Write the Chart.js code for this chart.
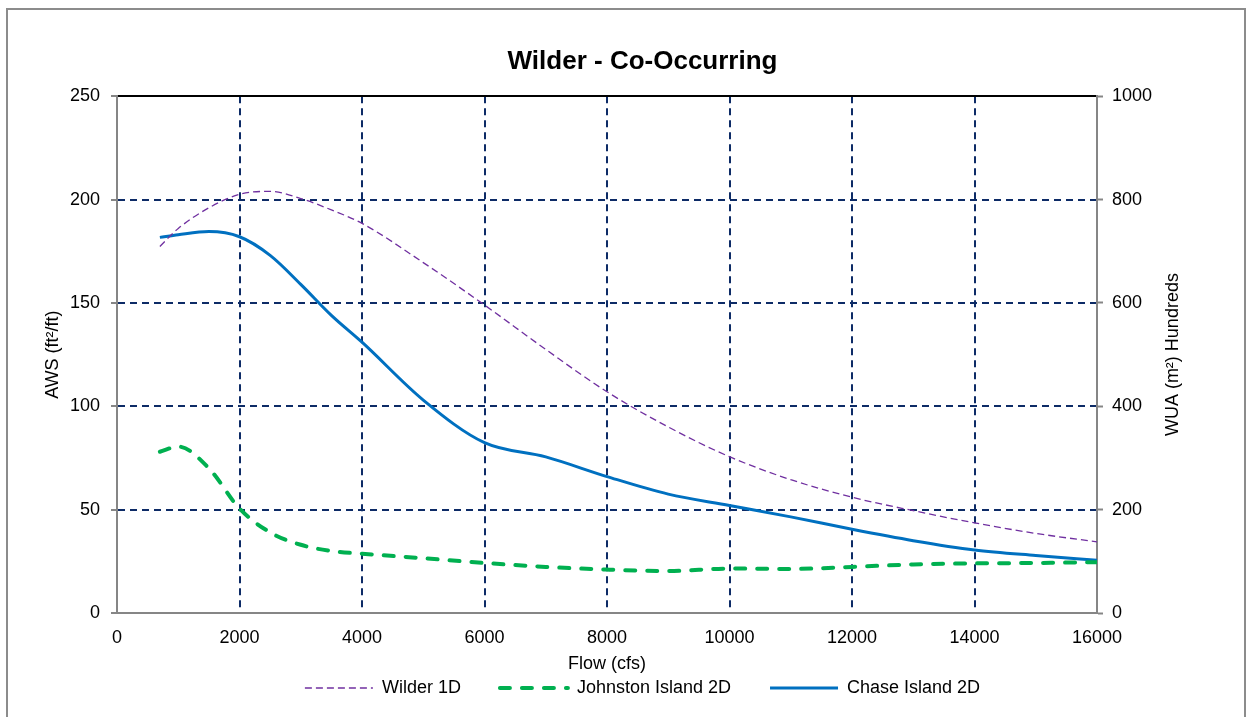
<!DOCTYPE html>
<html>
<head>
<meta charset="utf-8">
<script src="https://cdn.jsdelivr.net/npm/chart.js@4"></script>
<style>
    html, body { margin: 0; padding: 0; background: #fff; }
    #frame { position: absolute; left: 6px; top: 8px; width: 1236px; height: 720px; border: 2px solid #8c8c8c; }
    #wrap { position: absolute; left: 0; top: 0; width: 1253px; height: 717px; }
</style>
</head>
<body>
<div id="frame"></div>
<div id="wrap"><canvas id="flowChart" width="1253" height="717"></canvas></div>
<script>
// values
const flows = [700, 1000, 1500, 2000, 2500, 3000, 3500, 4000, 5000, 6000, 7000, 8000, 9000, 10000, 11000, 12000, 13000, 14000, 15000, 16000];
const wilder1D = [177.3, 186, 196, 202.5, 204, 200.5, 195, 188.5, 169.5, 149, 127.5, 107, 90, 75.6, 64.5, 56, 49.5, 43.6, 38.5, 34.4];
const johnstonIsland2D = [78, 80.5, 70, 50.5, 39, 33, 30, 28.7, 26.5, 24.2, 22.3, 21, 20.3, 21.5, 21.3, 22.3, 23.5, 24, 24.2, 24.6];
const chaseIsland2D = [181.7, 183, 184.5, 182, 173, 159, 144, 131, 103, 82.4, 75.5, 66, 57.5, 52, 46.5, 40.5, 35, 30.5, 27.8, 25.5];

const flowTicks = [0, 2000, 4000, 6000, 8000, 10000, 12000, 14000, 16000];
const awsTicks = [0, 50, 100, 150, 200, 250];
const wuaTicks = [0, 200, 400, 600, 800, 1000];

const navy = '#0d2b66';
const axisGray = '#868686';
const fontFamily = '"Liberation Sans", Arial, sans-serif';

Chart.defaults.font.family = fontFamily;
Chart.defaults.font.size = 18;
Chart.defaults.color = '#000';

function points(values) {
    return flows.map((f, i) => ({ x: f, y: values[i] }));
}

function setTicks(list) {
    return function (scale) {
        scale.ticks = list.map(v => ({ value: v }));
    };
}

const plainNumber = v => String(v);

// right axis title reads bottom-to-top like the left one
const rightTitle = {
    id: 'rightTitle',
    afterDraw(chart) {
        const { ctx, chartArea } = chart;
        const y2 = chart.scales.y2;
        ctx.save();
        ctx.font = '18px ' + fontFamily;
        ctx.fillStyle = '#000';
        ctx.textAlign = 'center';
        ctx.textBaseline = 'middle';
        ctx.translate(y2.left + 76, (chartArea.top + chartArea.bottom) / 2);
        ctx.rotate(-Math.PI / 2);
        ctx.fillText('WUA (m\u00b2) Hundreds', 0, 0);
        ctx.restore();
    }
};

const ctx = document.getElementById('flowChart').getContext('2d');
new Chart(ctx, {
    type: 'line',
    data: {
        datasets: [{
            label: 'Wilder 1D',
            data: points(wilder1D),
            borderColor: '#7030a0',
            borderWidth: 1.3,
            borderDash: [7, 4]
        }, {
            label: 'Johnston Island 2D',
            data: points(johnstonIsland2D),
            borderColor: '#00b050',
            borderWidth: 4,
            borderDash: [10, 12],
            borderCapStyle: 'round'
        }, {
            label: 'Chase Island 2D',
            data: points(chaseIsland2D),
            borderColor: '#0070c0',
            borderWidth: 3
        }]
    },
    options: {
        responsive: false,
        animation: false,
        devicePixelRatio: 1,
        cubicInterpolationMode: 'monotone',
        elements: { point: { radius: 0 } },
        layout: { padding: { left: 40, right: 8, top: 8, bottom: 10 } },
        scales: {
            x: {
                type: 'linear',
                position: 'bottom',
                min: 0,
                max: 16000,
                afterBuildTicks: setTicks(flowTicks),
                afterFit: s => { s.height = 62; },
                ticks: { padding: 14, maxRotation: 0, callback: plainNumber },
                grid: {
                    color: c => (c.tick && (c.tick.value === 0 || c.tick.value === 16000)) ? 'rgba(0,0,0,0)' : navy,
                    lineWidth: 2,
                    drawTicks: false
                },
                border: { color: axisGray, width: 2, dash: [7, 5] },
                title: { display: true, text: 'Flow (cfs)', padding: { top: 2, bottom: 0 } }
            },
            x2: {
                type: 'linear',
                position: 'top',
                min: 0,
                max: 16000,
                afterFit: s => { s.height = 0; },
                ticks: { display: false },
                grid: { display: false, drawTicks: false },
                border: { color: '#000', width: 2 }
            },
            y: {
                position: 'left',
                min: 0,
                max: 250,
                afterBuildTicks: setTicks(awsTicks),
                afterFit: s => { s.width = 77; },
                ticks: { padding: 11, callback: plainNumber },
                grid: {
                    color: c => (c.tick && (c.tick.value === 0 || c.tick.value === 250)) ? 'rgba(0,0,0,0)' : navy,
                    lineWidth: 2,
                    tickLength: 6,
                    tickColor: axisGray,
                    tickWidth: 2
                },
                border: { color: axisGray, width: 2, dash: [7, 5] },
                title: { display: true, text: 'AWS (ft\u00b2/ft)', padding: { top: 2, bottom: 0 } }
            },
            y2: {
                position: 'right',
                min: 0,
                max: 1000,
                afterBuildTicks: setTicks(wuaTicks),
                afterFit: s => { s.width = 148; },
                ticks: { padding: 9, callback: plainNumber },
                grid: {
                    drawOnChartArea: false,
                    tickLength: 6,
                    tickColor: axisGray,
                    tickWidth: 2
                },
                border: { color: axisGray, width: 2 }
            }
        },
        plugins: {
            tooltip: { enabled: false },
            title: {
                display: true,
                text: 'Wilder - Co-Occurring',
                color: '#000',
                font: { size: 26, weight: 'bold' },
                padding: { top: 38, bottom: 19 }
            },
            legend: {
                position: 'bottom',
                labels: {
                    usePointStyle: true,
                    pointStyleWidth: 68,
                    padding: 4,
                    color: '#000',
                    generateLabels(chart) {
                        const sets = chart.data.datasets;
                        return sets.map((ds, i) => ({
                            text: ds.label + (i < sets.length - 1 ? '       ' : ''),
                            strokeStyle: ds.borderColor,
                            fillStyle: ds.borderColor,
                            lineWidth: ds.borderWidth,
                            lineDash: ds.borderDash || [],
                            lineCap: ds.borderCapStyle || 'butt',
                            pointStyle: 'line',
                            fontColor: '#000',
                            hidden: false,
                            datasetIndex: i
                        }));
                    }
                }
            }
        }
    },
    plugins: [rightTitle]
});
</script>
</body>
</html>
